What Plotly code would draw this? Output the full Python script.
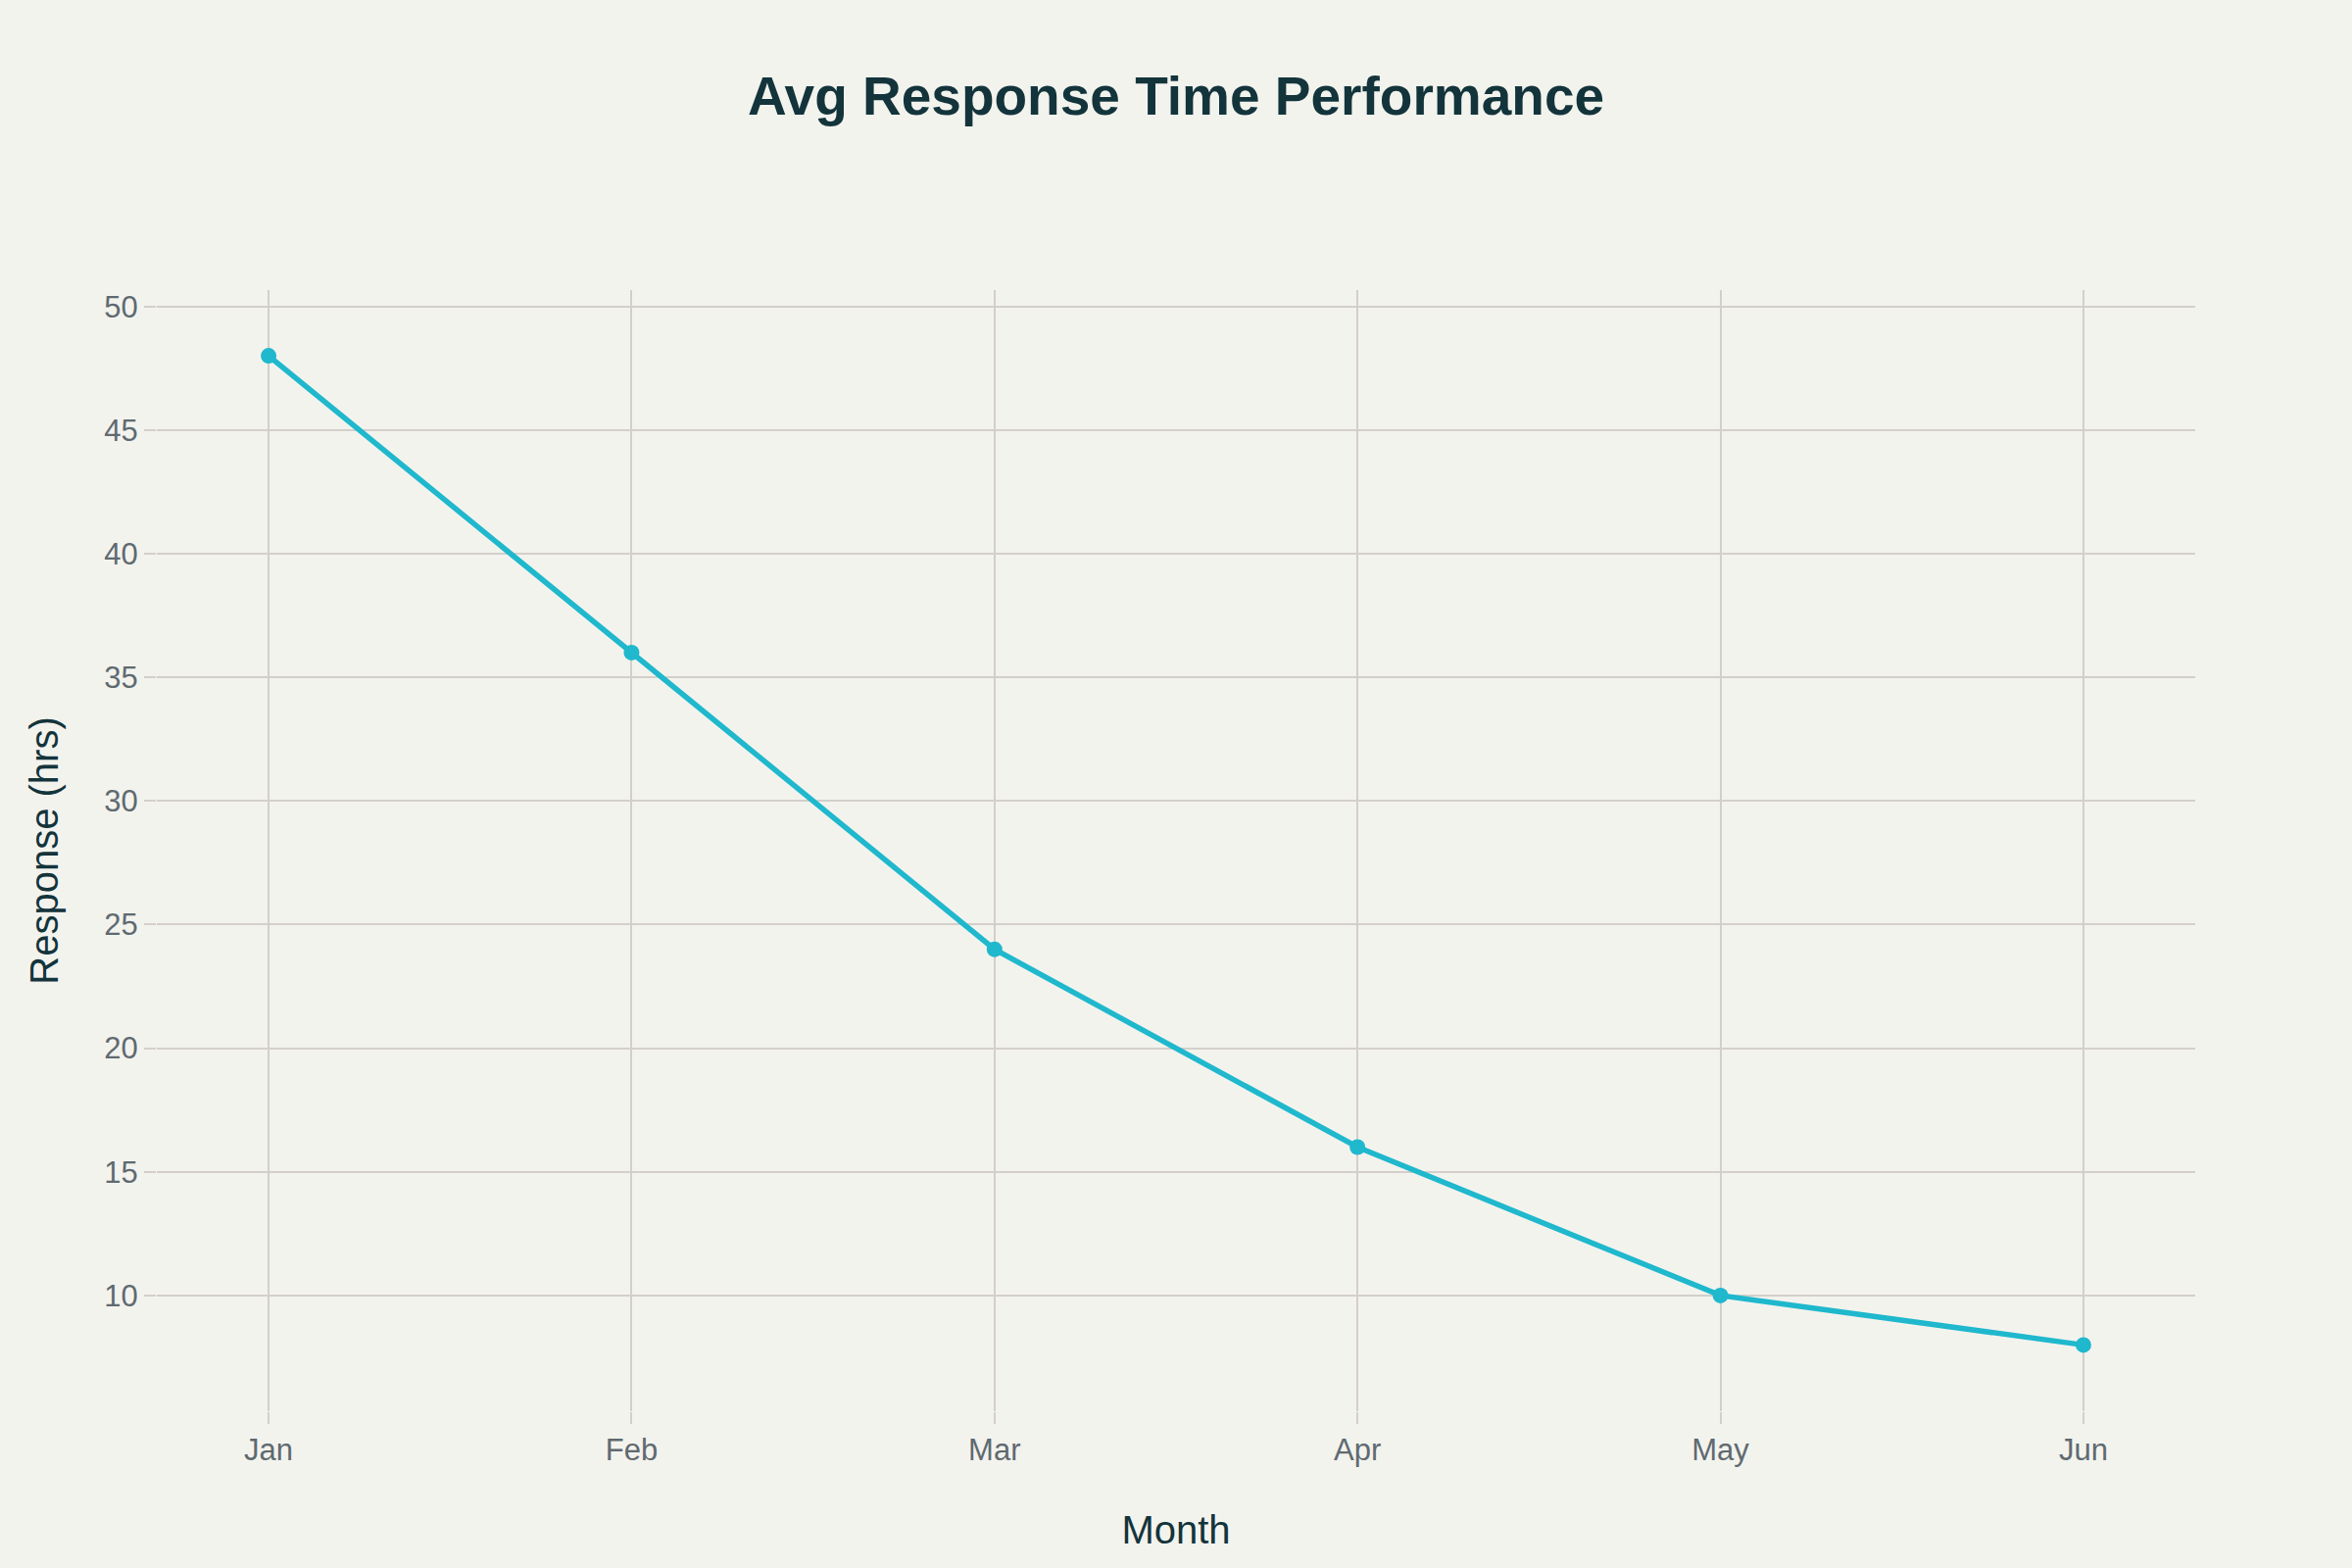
import plotly.graph_objects as go

# data
months = ["Jan", "Feb", "Mar", "Apr", "May", "Jun"]
response_hrs = [48, 36, 24, 16, 10, 8]

bg = "#F3F3EE"
grid = "#D3CFCA"
ink = "#13343B"
tick_ink = "#5F6A70"
teal = "#1FB8CD"
font_family = "Liberation Sans, Arial, sans-serif"

fig = go.Figure()

fig.add_trace(go.Scatter(
    x=months,
    y=response_hrs,
    mode="lines+markers",
    line=dict(color=teal, width=5.5),
    marker=dict(color=teal, size=16),
    showlegend=False,
))

fig.update_layout(
    width=2400,
    height=1600,
    paper_bgcolor=bg,
    plot_bgcolor=bg,
    font=dict(family=font_family, color=tick_ink),
    margin=dict(l=160, r=160, t=296, b=160),
    title=dict(
        text="<b>Avg Response Time Performance</b>",
        x=0.5,
        xanchor="center",
        y=0.939,
        yanchor="middle",
        font=dict(size=55, color=ink, family=font_family),
    ),
)

fig.update_xaxes(
    title=dict(text="Month", font=dict(size=40, color=ink), standoff=50),
    range=[-0.308, 5.308],
    showgrid=True,
    gridcolor=grid,
    gridwidth=2,
    ticks="outside",
    ticklen=12,
    tickcolor=grid,
    tickwidth=2,
    tickfont=dict(size=31, color=tick_ink),
    showline=False,
    zeroline=False,
)

fig.update_yaxes(
    title=dict(text="Response (hrs)", font=dict(size=40, color=ink), standoff=34),
    range=[5.32, 50.66],
    tickvals=[10, 15, 20, 25, 30, 35, 40, 45, 50],
    showgrid=True,
    gridcolor=grid,
    gridwidth=2,
    ticks="outside",
    ticklen=12,
    tickcolor=grid,
    tickwidth=2,
    tickfont=dict(size=31, color=tick_ink),
    showline=False,
    zeroline=False,
)

# drop the default page margin so the figure fills the window, no modebar
fig.write_html(
    "out.html",
    config={"displayModeBar": False},
    post_script="document.body.style.margin='0';",
)
